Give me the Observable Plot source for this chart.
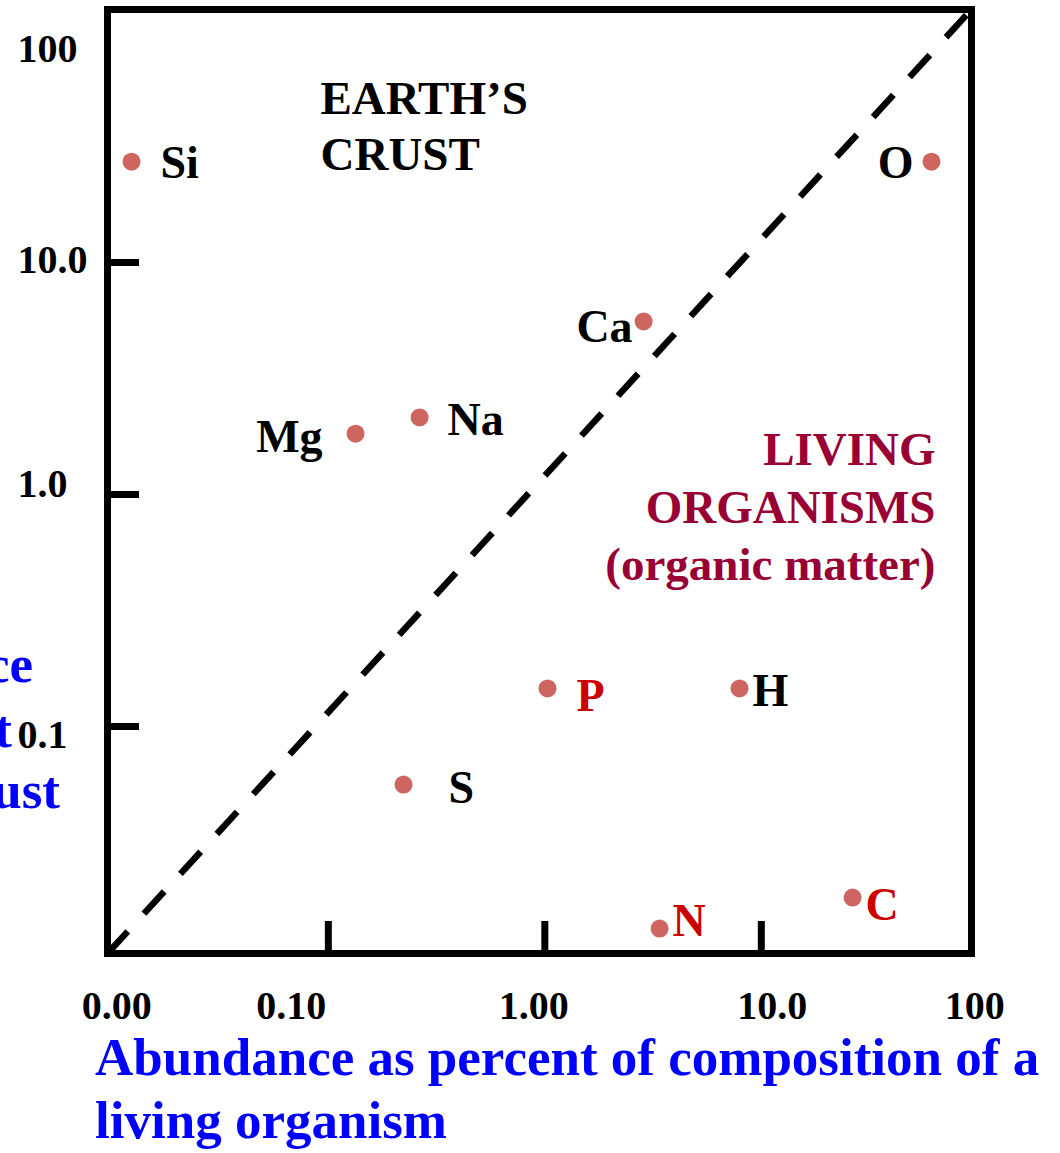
<!DOCTYPE html>
<html><head><meta charset="utf-8">
<script src="https://cdn.jsdelivr.net/npm/d3@7"></script>
<script src="https://cdn.jsdelivr.net/npm/@observablehq/plot@0.6"></script>
<style>
body{margin:0;background:#fff;overflow:hidden}
#wrap{position:relative;width:1060px;height:1153px;overflow:hidden;font-family:"Liberation Serif","Times New Roman",serif;font-weight:bold}
.ylab{position:absolute;color:#0000ff;font-size:53px;line-height:53px;white-space:nowrap;text-align:right}
#xlab{position:absolute;left:95px;top:1026px;color:#0000ff;font-size:53px;line-height:63px;white-space:nowrap}
svg{display:block}
</style></head><body><div id="wrap"></div>
<script>
// ---- data ----
const elements  = ["Si", "O", "Ca", "Na", "Mg", "P", "H", "S", "N", "C"];
const livingPct = [0.01233, 61.1, 2.86, 0.264, 0.1336, 1.029, 7.93, 0.2225, 3.39, 26.4];
const crustPct  = [27.2, 27.2, 5.57, 2.15, 1.83, 0.1459, 0.1459, 0.0562, 0.01346, 0.01832];
const xDomain = [0.00955, 93.5];
const yDomain = [0.01051, 123.2];
const xTickValues = [0.01, 0.1, 1, 10, 100];
const xTickLabels = ["0.00", "0.10", "1.00", "10.0", "100"];
const yTickValues = [100, 10, 1, 0.1];
const yTickLabels = ["100", "10.0", "1.0", "0.1"];
const xTickMarks = [0.1, 1, 10];
const yTickMarks = [10, 1, 0.1];
const crustLabel = "EARTH\u2019S\nCRUST";
const livingLabel = "LIVING\nORGANISMS\n(organic matter)";
const xTitleLines = ["Abundance as percent of composition of a", "living organism"];
const yTitleLines = ["Abundance", "as percent", "of Earth\u2019s crust"];

// ---- styles ----
const dotColor = "#cd6660";
const redSet = new Set(["P", "N", "C"]);
const labelStyle = {
  Si: [29, 2, "start"], O: [-18, 2, "end"], Ca: [-11, 6, "end"], Na: [28, 3, "start"],
  Mg: [-33, 4, "end"], P: [29, 8, "start"], H: [13, 3, "start"], S: [45, 4, "start"],
  N: [13, -7, "start"], C: [13, 8, "start"]
};
const xLabelDx = [5, -37, -11, 11, -3];
const yLabelDy = [19, -2, -10, 9];

const points = elements.map((e, i) => ({element: e, living: livingPct[i], crust: crustPct[i]}));
const diagonal = [{x1: xDomain[0], y1: yDomain[0], x2: xDomain[1], y2: yDomain[1]}];

const marks = [
  Plot.link(diagonal, {x1: "x1", y1: "y1", x2: "x2", y2: "y2", stroke: "black", strokeWidth: 6.5, strokeDasharray: "30,24", strokeLinecap: "butt"}),
  Plot.tickY(yTickMarks, {y: d => d, stroke: "black", strokeWidth: 7, insetRight: 832}),
  Plot.tickX(xTickMarks, {x: d => d, stroke: "black", strokeWidth: 7, insetTop: 912}),
  Plot.frame({stroke: "black", strokeWidth: 7}),
  Plot.dot(points, {x: "living", y: "crust", r: 9, fill: dotColor, stroke: "none"})
];
for (const p of points) {
  const [dx, dy, anchor] = labelStyle[p.element];
  marks.push(Plot.text([p], {x: "living", y: "crust", text: "element", dx, dy, textAnchor: anchor,
    fontSize: 46, fontWeight: "bold", fill: redSet.has(p.element) ? "#cc0000" : "black"}));
}
marks.push(Plot.text([crustLabel], {frameAnchor: "top-left", text: d => d, dx: 213, dy: 64, textAnchor: "start",
  lineAnchor: "top", lineHeight: 1.2, fontSize: 47, fontWeight: "bold", fill: "black"}));
marks.push(Plot.text([livingLabel], {frameAnchor: "top-right", text: d => d, dx: -36, dy: 415, textAnchor: "end",
  lineAnchor: "top", lineHeight: 1.22, fontSize: 47, fontWeight: "bold", fill: "#990033"}));
xTickValues.forEach((v, i) => {
  marks.push(Plot.axisX([v], {anchor: "bottom", tickSize: 0, tickPadding: 37, dx: xLabelDx[i], label: null,
    tickFormat: () => xTickLabels[i], fontSize: 40, fontWeight: "bold", fill: "black", lineAnchor: "top"}));
});
yTickValues.forEach((v, i) => {
  marks.push(Plot.axisY([v], {anchor: "left", tickSize: 0, tickPadding: 90, dy: yLabelDy[i], label: null,
    textAnchor: "start", tickFormat: () => yTickLabels[i], fontSize: 40, fontWeight: "bold", fill: "black"}));
});

const chart = Plot.plot({
  width: 1060, height: 1028,
  marginLeft: 107, marginRight: 89, marginTop: 9, marginBottom: 75,
  x: {type: "log", domain: xDomain},
  y: {type: "log", domain: yDomain},
  style: {fontFamily: "'Liberation Serif', 'Times New Roman', serif", background: "white", overflow: "visible"},
  marks
});
const wrap = document.getElementById("wrap");
wrap.appendChild(chart);

const rights = [33, 12, 60];
const baselines = [682, 747, 808];
yTitleLines.forEach((t, i) => {
  const d = document.createElement("div");
  d.className = "ylab";
  d.textContent = t;
  d.style.right = (1060 - rights[i]) + "px";
  d.style.top = (baselines[i] - 44.4) + "px";
  wrap.appendChild(d);
});
const xl = document.createElement("div");
xl.id = "xlab";
xl.innerHTML = xTitleLines.join("<br>");
wrap.appendChild(xl);
</script></body></html>
